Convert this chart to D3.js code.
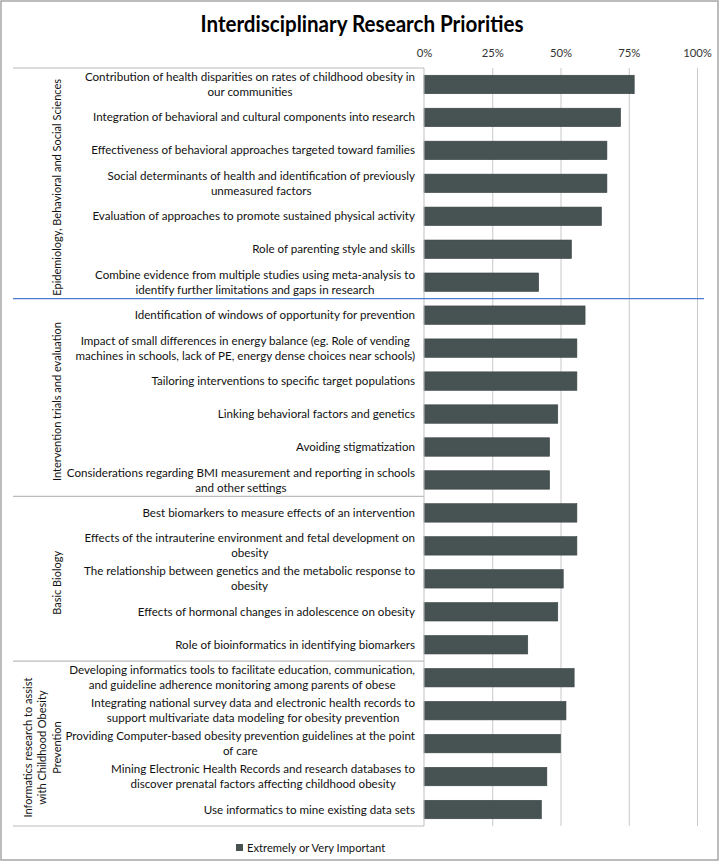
<!DOCTYPE html>
<html><head><meta charset="utf-8">
<script src="https://cdn.jsdelivr.net/npm/d3@7"></script>
<style>body{margin:0;background:#fff}svg{display:block}</style>
</head><body><svg id="c" width="720" height="862"></svg>
<script>
const title = "Interdisciplinary Research Priorities";
const groups = [
  "Epidemiology, Behavioral and Social Sciences",
  "Intervention trials and evaluation",
  "Basic Biology",
  "Informatics research to assist\nwith Childhood Obesity\nPrevention"
];
const groupSizes = [7, 6, 5, 5];
const categories = [
  "Contribution of health disparities on rates of childhood obesity in\nour communities",
  "Integration of behavioral and cultural components into research",
  "Effectiveness of behavioral approaches targeted toward families",
  "Social determinants of health and identification of previously\nunmeasured factors",
  "Evaluation of approaches to promote sustained physical activity",
  "Role of parenting style and skills",
  "Combine evidence from multiple studies using meta-analysis to\nidentify further limitations and gaps in research",
  "Identification of windows of opportunity for prevention",
  "Impact of small differences in energy balance (eg. Role of vending\nmachines in schools, lack of PE, energy dense choices near schools)",
  "Tailoring interventions to specific target populations",
  "Linking behavioral factors and genetics",
  "Avoiding stigmatization",
  "Considerations regarding BMI measurement and reporting in schools\nand other settings",
  "Best biomarkers to measure effects of an intervention",
  "Effects of the intrauterine environment and fetal development on\nobesity",
  "The relationship between genetics and the metabolic response to\nobesity",
  "Effects of hormonal changes in adolescence on obesity",
  "Role of bioinformatics in identifying biomarkers",
  "Developing informatics tools to facilitate education, communication,\nand guideline adherence monitoring among parents of obese",
  "Integrating national survey data and electronic health records to\nsupport multivariate data modeling for obesity prevention",
  "Providing Computer-based obesity prevention guidelines at the point\nof care",
  "Mining Electronic Health Records and research databases to\ndiscover prenatal factors affecting childhood obesity",
  "Use informatics to mine existing data sets"
];
const values = [77, 72, 67, 67, 65, 54, 42, 59, 56, 56, 49, 46, 46, 56, 56, 51, 49, 38, 55, 52, 50, 45, 43];
const tickValues = [0, 25, 50, 75, 100];
const seriesName = "Extremely or Very Important";

const FONT = "Lato, 'Open Sans', sans-serif";
const barColor = "#475253";
const svg = d3.select("#c");
svg.append("rect").attr("x", 1).attr("y", 1).attr("width", 717).attr("height", 859)
  .attr("fill", "#fff").attr("stroke", "#a6a6a6").attr("stroke-width", 1.5);

const pTop = 68, pBottom = 826, pLeft = 424, pRight = 697;
const x = d3.scaleLinear().domain([0, 100]).range([pLeft, pRight]);
const y = d3.scaleBand().domain(d3.range(categories.length)).range([pTop, pBottom])
  .paddingInner(0.44).paddingOuter(0.22);

// title
svg.append("text").attr("x", 362).attr("y", 32).attr("text-anchor", "middle")
  .attr("font-family", FONT).attr("font-weight", "bold").attr("font-size", 22)
  .attr("textLength", 323).attr("lengthAdjust", "spacingAndGlyphs")
  .attr("fill", "#000").text(title);

// grid
const grid = svg.append("g").attr("transform", `translate(0,${pTop})`)
  .call(d3.axisTop(x).tickValues(tickValues.slice(1)).tickSize(-(pBottom - pTop)).tickFormat(""));
grid.select(".domain").remove();
grid.selectAll("line").attr("stroke", "#c9c9c9").attr("stroke-width", 1);

// tick labels
const ax = svg.append("g").attr("transform", `translate(0,${pTop})`)
  .call(d3.axisTop(x).tickValues(tickValues).tickSize(0).tickPadding(11).tickFormat(d => d + "%"));
ax.select(".domain").remove();
ax.selectAll("text").attr("font-family", FONT).attr("font-size", 11.3).attr("fill", "#333");

// bars
svg.append("g").selectAll("rect").data(values).join("rect")
  .attr("x", x(0)).attr("y", (d, i) => y(i))
  .attr("width", d => x(d) - x(0)).attr("height", y.bandwidth())
  .attr("fill", barColor).attr("stroke", "#3a4344").attr("stroke-width", 0.6);

// category axis line
svg.append("line").attr("x1", pLeft).attr("x2", pLeft).attr("y1", pTop).attr("y2", pBottom)
  .attr("stroke", "#bfbfbf");

// group boundaries
const bounds = [0];
groupSizes.forEach(s => bounds.push(bounds[bounds.length - 1] + s));
const by = i => i === 0 ? pTop : (i === categories.length ? pBottom : y(i) - y.step() * y.paddingInner() / 2);
bounds.forEach((b, k) => {
  const yy = by(b);
  const blue = k === 1;
  svg.append("line").attr("x1", 13).attr("x2", blue ? 704 : pLeft).attr("y1", yy).attr("y2", yy)
    .attr("stroke", blue ? "#4a7bd0" : "#bcbcbc").attr("stroke-width", 1.2);
});

// category labels
const lab = svg.append("g").attr("font-family", FONT).attr("font-size", 11.6).attr("fill", "#111");
categories.forEach((c, i) => {
  const lines = c.split("\n");
  const cy = y(i) + y.bandwidth() / 2;
  const g = lab.append("g");
  const ts = lines.map((l, j) => g.append("text")
    .attr("y", cy + (j - (lines.length - 1) / 2) * 15)
    .attr("dy", "0.35em").attr("text-anchor", "middle").text(l));
  const maxW = d3.max(ts, t => t.node().getComputedTextLength());
  ts.forEach(t => t.attr("x", 415 - maxW / 2));
});

// group labels
groups.forEach((gname, k) => {
  const y0 = by(bounds[k]), y1 = by(bounds[k + 1]);
  const cy = (y0 + y1) / 2 + 4;
  const lines = gname.split("\n");
  const n = lines.length;
  lines.forEach((l, j) => {
    const cx = 57 - (n - 1 - j) * 14.5;
    svg.append("text").attr("transform", `translate(${cx},${cy}) rotate(-90)`)
      .attr("text-anchor", "middle").attr("dy", "0.35em")
      .attr("font-family", FONT).attr("font-size", 11).attr("fill", "#111").text(l);
  });
});

// legend
svg.append("rect").attr("x", 236).attr("y", 844).attr("width", 7).attr("height", 7).attr("fill", barColor);
svg.append("text").attr("x", 247).attr("y", 848).attr("dy", "0.35em")
  .attr("font-family", FONT).attr("font-size", 11.2).attr("fill", "#111").text(seriesName);
</script></body></html>
